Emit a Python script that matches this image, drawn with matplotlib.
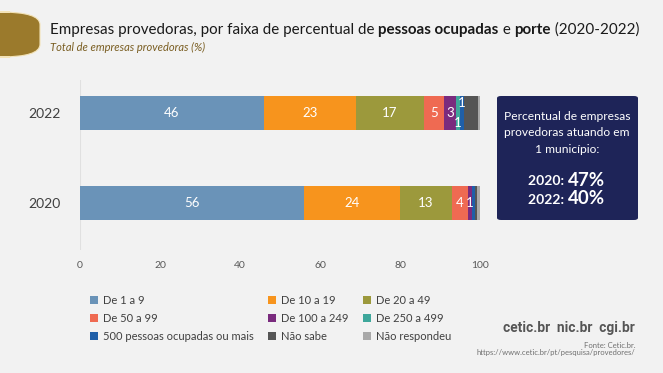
import numpy as np
import matplotlib.pyplot as plt
from matplotlib.patches import FancyBboxPatch, Patch

plt.rcParams['font.family'] = ['Lato', 'DejaVu Sans']

# data
years = ['2020', '2022']
categories = ['De 1 a 9', 'De 10 a 19', 'De 20 a 49', 'De 50 a 99', 'De 100 a 249',
              'De 250 a 499', '500 pessoas ocupadas ou mais', 'Não sabe', 'Não respondeu']
values_2020 = [56, 24, 13, 4, 1, 0, 0.8, 0.5, 0.7]
values_2022 = [46, 23, 17, 5, 3, 1, 1, 3.4, 0.6]
colors = ['#6A93B8', '#F7941D', '#9C993C', '#EF6A52', '#7A2B7E',
          '#3EA79B', '#1F5FA8', '#555555', '#A9A9A9']
box_lines = ['Percentual de empresas', 'provedoras atuando em', '1 município:']
box_years = ['2020:', '2022:']
box_values = ['47%', '40%']

W, H = 663, 373
fig = plt.figure(figsize=(W / 100, H / 100), dpi=100)
fig.patch.set_facecolor('#F2F2F2')
fig.canvas.draw()
r = fig.canvas.get_renderer()


def fx(px):
    return px / W


def fy(py):
    return 1 - py / H


def fit(t, width):
    # shrink/grow a text so it spans the given pixel width
    w = t.get_window_extent(renderer=r).width
    t.set_fontsize(t.get_fontsize() * width / w)


# axes: x 80..480 px, y 80..250 px
ax = fig.add_axes([fx(80), fy(250), fx(400), (250 - 80) / H])
ax.set_facecolor('none')
ypos = [0, 1]
series = [values_2020, values_2022]
for yi, vals in zip(ypos, series):
    left = 0
    for ci, v in enumerate(vals):
        ax.barh(yi, v, left=left, height=0.38, color=colors[ci], edgecolor='none')
        left += v


def label(yi, vals, idx, dy=0.0):
    left = sum(vals[:idx])
    ax.text(left + vals[idx] / 2, yi + dy, f'{round(vals[idx])}', ha='center', va='center',
            color='white', fontsize=9.5)


for idx in range(5):
    label(1, values_2022, idx)
label(1, values_2022, 5, dy=-0.11)
label(1, values_2022, 6, dy=0.11)
for idx in range(5):
    label(0, values_2020, idx)

ax.set_xlim(0, 100)
ax.set_ylim(-0.522, 1.367)
ax.set_xticks(np.arange(0, 101, 20))
ax.set_yticks(ypos)
ax.set_yticklabels(years)
ax.tick_params(axis='x', length=0, labelsize=7.5, colors='#595959', pad=8)
ax.tick_params(axis='y', length=0, labelsize=10, colors='#404040', pad=14)
for s in ax.spines.values():
    s.set_visible(False)
ax.axvline(0, color='#E0E0E0', lw=0.8, zorder=0)

# gold tab
fig.patches.append(FancyBboxPatch((fx(-30), fy(57)), fx(70), (57 - 12) / H,
                                  boxstyle='round,pad=0,rounding_size=0.06',
                                  transform=fig.transFigure, facecolor='#9B7A2C',
                                  edgecolor='#F3E3B8', lw=0.8, mutation_aspect=H / W))

# title with bold pieces
pieces = [('Empresas provedoras, por faixa de percentual de ', 'normal'),
          ('pessoas ocupadas', 'bold'), (' e ', 'normal'), ('porte', 'bold'),
          (' (2020-2022)', 'normal')]
size = 12
total = 0
for txt, wgt in pieces:
    t = fig.text(0, 0, txt, fontsize=size, fontweight=wgt)
    total += t.get_window_extent(renderer=r).width
    t.remove()
size = size * 587 / total
x = 50
for txt, wgt in pieces:
    t = fig.text(fx(x), fy(30), txt, fontsize=size, fontweight=wgt, color='#1A1A1A',
                 ha='left', va='center')
    x += t.get_window_extent(renderer=r).width
sub = fig.text(fx(50), fy(47), 'Total de empresas provedoras (%)', fontsize=8, style='italic',
               color='#7A5E22', ha='left', va='center')
fit(sub, 156)

# navy box
fig.patches.append(FancyBboxPatch((fx(497), fy(220)), fx(141), (220 - 96) / H,
                                  boxstyle='round,pad=0,rounding_size=0.006',
                                  transform=fig.transFigure, facecolor='#1E2458',
                                  edgecolor='none'))
bt = []
for i, line in enumerate(box_lines):
    bt.append(fig.text(fx(567), fy(117 + i * 16), line, fontsize=10, color='white',
                       ha='center', va='center'))
fit(bt[0], 126)
for t in bt[1:]:
    t.set_fontsize(bt[0].get_fontsize())
for i, (yr, val) in enumerate(zip(box_years, box_values)):
    fig.text(fx(568), fy(181 + i * 19), yr + ' ', fontsize=10, fontweight='bold',
             color='white', ha='right', va='center')
    fig.text(fx(568), fy(180 + i * 19), val, fontsize=13.5, fontweight='bold',
             color='white', ha='left', va='center')

# legend (row-major order)
handles = [Patch(facecolor=c, edgecolor='none') for c in colors]
order = [0, 3, 6, 1, 4, 7, 2, 5, 8]
fig.legend([handles[i] for i in order], [categories[i] for i in order], ncol=3,
           loc='upper left', bbox_to_anchor=(fx(80), fy(285)), frameon=False,
           fontsize=8, handlelength=0.75, handleheight=0.75, handletextpad=0.45,
           columnspacing=1.25, labelspacing=0.62, labelcolor='#404040')

# logos and source
logo = fig.text(fx(635), fy(328), 'cetic.br  nic.br  cgi.br', fontsize=14, fontweight='bold',
                color='#555555', ha='right', va='center', family=['Roboto', 'DejaVu Sans'])
fit(logo, 132)
fig.text(fx(635), fy(345), 'Fonte: Cetic.br.', fontsize=5.5, color='#707070', ha='right', va='center')
fig.text(fx(635), fy(353), 'https://www.cetic.br/pt/pesquisa/provedores/', fontsize=5.5,
         color='#707070', ha='right', va='center')

fig.savefig('out.png', dpi=100, facecolor=fig.get_facecolor())
